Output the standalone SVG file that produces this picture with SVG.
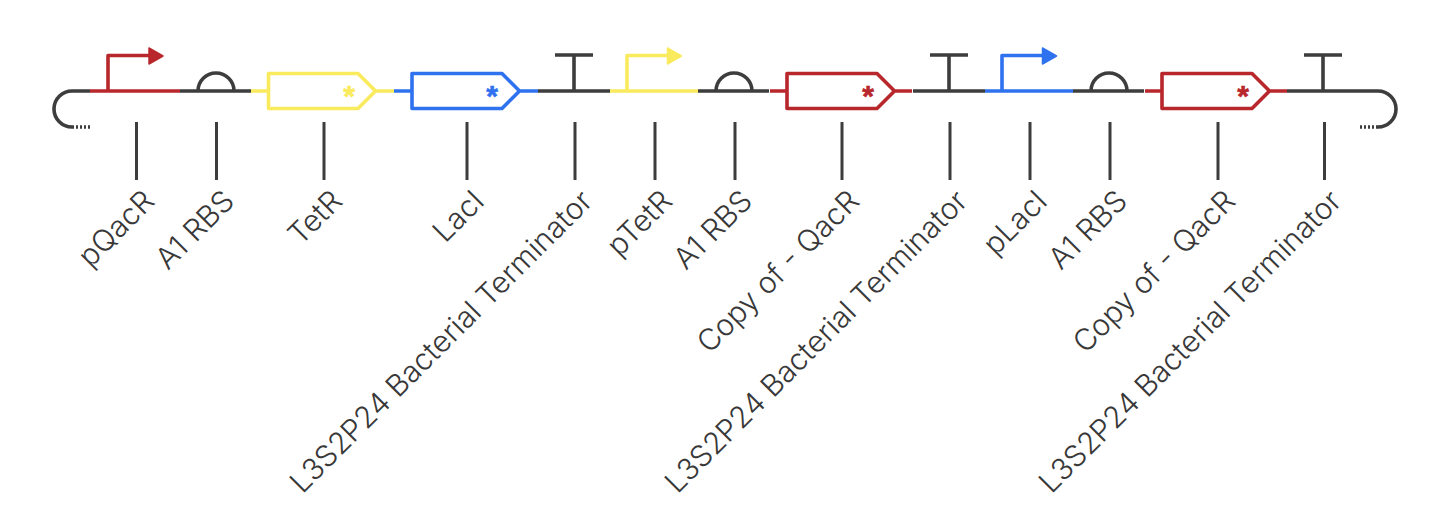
<svg xmlns="http://www.w3.org/2000/svg" width="1442" height="524" viewBox="0 0 1442 524">
<style>
.l{fill:none;stroke-width:3.6;stroke-linejoin:round}
.k{stroke:#3d3d3d}.r{stroke:#b8272c}.y{stroke:#f9ea5e}.b{stroke:#2f72f0}
.fr{fill:#b8272c;stroke:#b8272c}.fy{fill:#f9ea5e;stroke:#f9ea5e}.fb{fill:#2f72f0;stroke:#2f72f0}
.head{stroke-width:1.5;stroke-linejoin:round}
.ast{font:700 30px "Liberation Sans",sans-serif;text-anchor:middle;stroke-width:.6}
.t{font:300 29.8px Inter,"Liberation Sans",sans-serif;fill:#383838;text-anchor:end}
.lead{stroke:#3d3d3d;stroke-width:3;fill:none}
</style>
<defs>
<g id="rbs"><path class="l k" d="M0 91H71M18 91A18 18 0 0 1 54 91"/></g>
<g id="term"><path class="l k" d="M0 91H72M36 91V55M17 55H55"/></g>
<path id="arrow" d="M0 -8L14 0L0 8Z"/>
</defs>
<g id="connectors">
<path class="lead" d="M136.5 122V180M216.5 122V180M324 122V180M467 122V180M575 122V180M655 122V180M735 122V180M842 122V180M950 122V180M1030 122V180M1110 122V180M1218 122V180M1324.5 122V180"/>
</g>
<g id="backbone-left"><path class="l k" d="M90 91H72A18 18 0 0 0 72 127"/><path class="l k" d="M72 127H90" stroke-dasharray="2 2"/></g>
<g id="pQacR"><path class="l r" d="M90 91H180M108 91V55.5H150"/><use href="#arrow" x="149" y="56" class="fr head"/></g>
<g id="rbs1"><use href="#rbs" x="180"/></g>
<g id="TetR"><path class="l y" d="M251 91H268.5V73.5H358L375.5 91L358 108.500H268.5V91M375.5 91H394"/><text class="ast fy" x="349" y="106">*</text></g>
<g id="LacI"><path class="l b" d="M394 91H412V73.5H502L519.500 91L502 108.500H412V91M519.5 91H538"/><text class="ast fb" x="492" y="106">*</text></g>
<g id="term1"><use href="#term" x="538"/></g>
<g id="pTetR"><path class="l y" d="M610 91H698M627 91V55.5H668"/><use href="#arrow" x="667.500" y="56" class="fy head"/></g>
<g id="rbs2"><use href="#rbs" x="698"/></g>
<g id="QacR1"><path class="l r" d="M770 91H787V73.500H877L894.5 91L877 108.500H787V91M894.5 91H912"/><text class="ast fr" x="868" y="106">*</text></g>
<g id="term2"><use href="#term" x="913"/></g>
<g id="pLacI"><path class="l b" d="M985 91H1073M1002 91V55.5H1043"/><use href="#arrow" x="1042.500" y="56" class="fb head"/></g>
<g id="rbs3"><use href="#rbs" x="1073"/></g>
<g id="QacR2"><path class="l r" d="M1145 91H1162V73.500H1252L1269.5 91L1252 108.500H1162V91M1269.5 91H1287"/><text class="ast fr" x="1243" y="106">*</text></g>
<g id="term3"><use href="#term" x="1287"/></g>
<g id="backbone-right"><path class="l k" d="M1359 91H1378A18 18 0 0 1 1378 127"/><path class="l k" d="M1378 127H1359" stroke-dasharray="2 2"/></g>
<g id="labels">
<text class="t" transform="translate(156 203) rotate(-45)">pQacR</text>
<text class="t" transform="translate(236 203) rotate(-45)">A1 RBS</text>
<text class="t" transform="translate(344 203) rotate(-45)">TetR</text>
<text class="t" transform="translate(486 203) rotate(-45)">LacI</text>
<text class="t" transform="translate(594 203) rotate(-45)">L3S2P24 Bacterial Terminator</text>
<text class="t" transform="translate(674 203) rotate(-45)">pTetR</text>
<text class="t" transform="translate(754 203) rotate(-45)">A1 RBS</text>
<text class="t" transform="translate(861 203) rotate(-45)">Copy of - QacR</text>
<text class="t" transform="translate(969 203) rotate(-45)">L3S2P24 Bacterial Terminator</text>
<text class="t" transform="translate(1049 203) rotate(-45)">pLacI</text>
<text class="t" transform="translate(1129 203) rotate(-45)">A1 RBS</text>
<text class="t" transform="translate(1237 203) rotate(-45)">Copy of - QacR</text>
<text class="t" transform="translate(1343 203) rotate(-45)">L3S2P24 Bacterial Terminator</text>
</g>
</svg>
